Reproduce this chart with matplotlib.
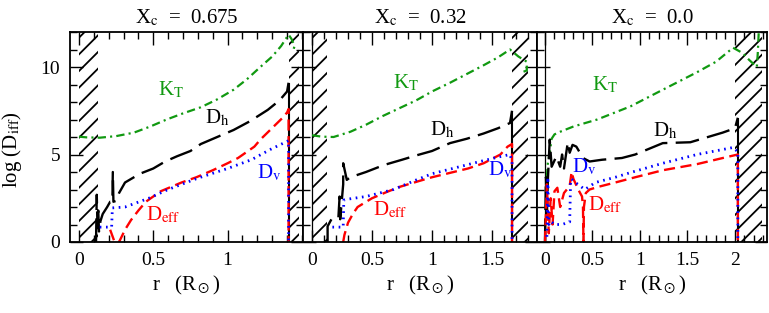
import matplotlib
matplotlib.use('Agg')
import matplotlib.pyplot as plt
from matplotlib.ticker import MultipleLocator, FuncFormatter

plt.rcParams['font.family'] = ['Liberation Serif', 'DejaVu Serif']
plt.rcParams['mathtext.fontset'] = 'stix'
plt.rcParams['lines.scale_dashes'] = False
plt.rcParams['hatch.linewidth'] = 1.3

# panel titles (central hydrogen)
titles = ['X$_{\\rm c}$  =  0.675', 'X$_{\\rm c}$  =  0.32', 'X$_{\\rm c}$  =  0.0']
xlims = [(-0.06, 1.507), (-0.075, 1.875), (-0.084, 2.337)]
xticks = [[0, 0.5, 1], [0, 0.5, 1, 1.5], [0, 0.5, 1, 1.5, 2]]
hatch_spans = [[(0.0, 0.13), (1.41, 1.48)], [(0.0, 0.125), (1.667, 1.80)], [(2.0, 2.28)]]

# ---- X_c = 0.675
kt1_r = [0.0, 0.05, 0.14, 0.25, 0.37, 0.48, 0.59, 0.70, 0.82, 0.93, 1.04, 1.13, 1.22, 1.30, 1.36, 1.41, 1.43, 1.45, 1.44]
kt1_y = [6.02, 5.98, 5.96, 6.05, 6.25, 6.6, 7.0, 7.35, 7.7, 8.15, 8.7, 9.3, 10.0, 10.6, 11.2, 11.85, 11.6, 11.2, 10.9]
dh1_r = [0.115, 0.12, 0.125, 0.13, 0.135, 0.145, 0.16, 0.19, 0.21, 0.225, 0.228, 0.232, 0.25, 0.27, 0.31, 0.36, 0.41, 0.5, 0.58, 0.66, 0.75, 0.82, 0.93, 1.04, 1.15, 1.27, 1.35, 1.40, 1.41]
dh1_y = [0.0, 2.7, 0.8, 1.8, 0.6, 1.2, 1.6, 2.0, 2.3, 2.3, 4.0, 2.3, 2.35, 2.8, 3.4, 3.65, 3.9, 4.2, 4.6, 4.9, 5.2, 5.6, 6.0, 6.4, 6.9, 7.55, 8.1, 8.6, 9.1]
de1_r = [0.21, 0.24, 0.27, 0.31, 0.35, 0.40, 0.45, 0.55, 0.69, 0.79, 0.9, 1.0, 1.07, 1.18, 1.22, 1.31, 1.37, 1.40, 1.41, 1.41]
de1_y = [0.7, 0.0, 0.0, 0.7, 1.25, 1.8, 2.3, 2.9, 3.4, 3.7, 4.1, 4.5, 4.8, 5.45, 5.85, 6.6, 7.1, 7.4, 7.6, 0.0]
dv1_r = [0.14, 0.18, 0.22, 0.225, 0.31, 0.47, 0.6, 0.8, 1.0, 1.16, 1.29, 1.40, 1.41, 1.41]
dv1_y = [0.85, 0.85, 0.85, 1.95, 2.0, 2.5, 3.0, 3.65, 4.2, 4.7, 5.3, 5.75, 5.8, 0.0]

# ---- X_c = 0.32
kt2_r = [0.0, 0.08, 0.18, 0.32, 0.45, 0.59, 0.73, 0.87, 1.0, 1.15, 1.29, 1.43, 1.55, 1.65, 1.72, 1.79, 1.79, 1.75]
kt2_y = [6.1, 6.02, 6.0, 6.3, 6.7, 7.2, 7.65, 8.1, 8.6, 9.1, 9.6, 10.1, 10.55, 11.0, 10.6, 10.3, 9.8, 9.7]
dh2_r = [0.13, 0.13, 0.17, 0.22, 0.23, 0.235, 0.26, 0.26, 0.29, 0.32, 0.45, 0.6, 0.75, 0.87, 1.0, 1.15, 1.29, 1.43, 1.55, 1.65, 1.667]
dh2_y = [0.0, 0.9, 1.4, 1.4, 2.6, 1.3, 3.3, 4.5, 3.55, 3.7, 4.0, 4.4, 4.7, 4.95, 5.2, 5.65, 5.9, 6.2, 6.5, 6.8, 7.5]
de2_r = [0.26, 0.27, 0.30, 0.34, 0.38, 0.5, 0.62, 0.73, 0.9, 1.0, 1.15, 1.3, 1.43, 1.57, 1.63, 1.667, 1.667]
de2_y = [0.0, 0.4, 1.1, 1.6, 2.0, 2.5, 2.85, 3.15, 3.5, 3.7, 3.95, 4.2, 4.5, 5.0, 5.45, 5.6, 0.0]
dv2_r = [0.17, 0.2, 0.26, 0.265, 0.3, 0.45, 0.68, 0.87, 1.0, 1.2, 1.4, 1.55, 1.65, 1.667, 1.667]
dv2_y = [0.85, 0.85, 0.85, 2.4, 2.45, 2.6, 3.0, 3.55, 3.9, 4.25, 4.6, 4.85, 5.0, 4.6, 0.0]

# ---- X_c = 0.0
kt3_r = [0.02, 0.03, 0.05, 0.07, 0.1, 0.16, 0.3, 0.55, 0.9, 1.24, 1.6, 1.8, 1.98, 2.08, 2.15, 2.23, 2.24, 2.25]
kt3_y = [3.7, 4.5, 5.1, 5.9, 6.15, 6.3, 6.6, 7.0, 7.75, 8.7, 9.7, 10.3, 11.1, 10.8, 10.4, 10.0, 10.8, 12.0]
dh3_r = [0.0, 0.01, 0.02, 0.03, 0.05, 0.07, 0.12, 0.16, 0.18, 0.20, 0.24, 0.26, 0.29, 0.33, 0.40, 0.47, 0.60, 0.81, 0.95, 1.24, 1.53, 1.87, 2.0, 2.03]
dh3_y = [0.0, 3.7, 1.5, 3.5, 5.85, 4.3, 4.9, 4.3, 5.0, 4.2, 5.7, 5.1, 5.55, 5.45, 4.8, 4.6, 4.7, 4.8, 5.0, 5.65, 5.7, 6.25, 6.5, 7.1]
de3_r = [0.0, 0.02, 0.04, 0.06, 0.08, 0.1, 0.13, 0.16, 0.2, 0.26, 0.28, 0.3, 0.35, 0.39, 0.40, 0.405, 0.41, 0.43, 0.47, 0.56, 0.74, 0.95, 1.24, 1.6, 1.95, 2.03, 2.03]
de3_y = [0.0, 3.3, 0.5, 2.5, 1.0, 2.9, 3.1, 2.0, 2.8, 3.2, 4.0, 3.6, 3.0, 2.6, 2.0, 0.0, 2.0, 2.8, 3.0, 3.15, 3.4, 3.7, 4.1, 4.45, 4.9, 5.0, 0.0]
dv3_r = [0.02, 0.03, 0.04, 0.06, 0.1, 0.18, 0.26, 0.27, 0.28, 0.32, 0.37, 0.42, 0.53, 0.74, 0.92, 1.24, 1.6, 1.98, 2.03, 2.03]
dv3_y = [0.3, 3.7, 1.0, 1.2, 1.0, 1.0, 1.15, 3.55, 3.6, 3.4, 3.2, 3.0, 3.4, 3.7, 4.0, 4.5, 5.0, 5.4, 5.15, 0.0]

kt = [(kt1_r, kt1_y), (kt2_r, kt2_y), (kt3_r, kt3_y)]
dh = [(dh1_r, dh1_y), (dh2_r, dh2_y), (dh3_r, dh3_y)]
de = [(de1_r, de1_y), (de2_r, de2_y), (de3_r, de3_y)]
dv = [(dv1_r, dv1_y), (dv2_r, dv2_y), (dv3_r, dv3_y)]

# label positions (r, log D) for K_T, D_h, D_v, D_eff
lab_kt = [(0.53, 8.7), (0.675, 9.1), (0.49, 8.97)]
lab_dh = [(0.85, 7.1), (0.98, 6.4), (1.14, 6.33)]
lab_dv = [(1.2, 3.95), (1.47, 4.1), (0.28, 4.27)]
lab_de = [(0.45, 1.55), (0.51, 1.85), (0.45, 2.12)]

green = '#119911'
fig = plt.figure(figsize=(7.69, 3.13), dpi=100)
lefts = [70, 303, 537]
rights = [303, 537, 767]
fmt = FuncFormatter(lambda v, p: '%g' % v)

for i in range(3):
    ax = fig.add_axes([lefts[i] / 769.0, 1 - 242 / 313.0, (rights[i] - lefts[i]) / 769.0, 210 / 313.0])
    ax.set_xlim(xlims[i])
    ax.set_ylim(0, 12)
    for s in ax.spines.values():
        s.set_linewidth(1.3)
    ax.xaxis.set_major_locator(MultipleLocator(0.5))
    ax.xaxis.set_minor_locator(MultipleLocator(0.1))
    ax.yaxis.set_major_locator(MultipleLocator(5))
    ax.yaxis.set_minor_locator(MultipleLocator(1))
    ax.set_xticks(xticks[i])
    ax.xaxis.set_major_formatter(fmt)
    ax.yaxis.set_major_formatter(fmt)
    ax.tick_params(which='both', direction='in', top=True, right=True, width=1.0, labelsize=14)
    ax.tick_params(which='major', length=9)
    ax.tick_params(which='minor', length=5)
    ax.tick_params(axis='x', pad=7)
    ax.tick_params(axis='y', pad=7)
    if i > 0:
        ax.tick_params(axis='y', labelleft=False)
        ax.axvline(0, color='k', lw=0.9)

    for x0, x1 in hatch_spans[i]:
        ax.axvspan(x0, x1, facecolor='none', edgecolor='k', hatch='//', linewidth=0)

    r, y = kt[i]
    ax.plot(r, y, color=green, lw=1.6, dashes=[6, 3, 1.5, 3])
    r, y = dh[i]
    ax.plot(r, y, color='k', lw=1.7, dashes=[17, 6])
    ax.vlines(r[-1], 0, y[-1], color='k', lw=1.5)
    r, y = de[i]
    ax.plot(r, y, color='red', lw=1.7, dashes=[8, 4])
    r, y = dv[i]
    ax.plot(r, y, color='blue', lw=2.0, dashes=[1.2, 3.3])

    ax.text(lab_kt[i][0], lab_kt[i][1], 'K$_{\\rm T}$', color=green, fontsize=15, va='center')
    ax.text(lab_dh[i][0], lab_dh[i][1], 'D$_{\\rm h}$', color='k', fontsize=15, va='center')
    ax.text(lab_dv[i][0], lab_dv[i][1], 'D$_{\\rm v}$', color='blue', fontsize=15, va='center')
    ax.text(lab_de[i][0], lab_de[i][1], 'D$_{\\rm eff}$', color='red', fontsize=15, va='center')

    ax.set_title(titles[i], fontsize=15, pad=6)
    ax.set_xlabel('r   (R$_\\odot$)', fontsize=15, labelpad=4)

fig.text(12 / 769.0, 1 - 150 / 313.0, 'log (D$_{\\rm iff}$)', rotation=90, fontsize=15, ha='center', va='center')

fig.savefig('out.png', dpi=100)
